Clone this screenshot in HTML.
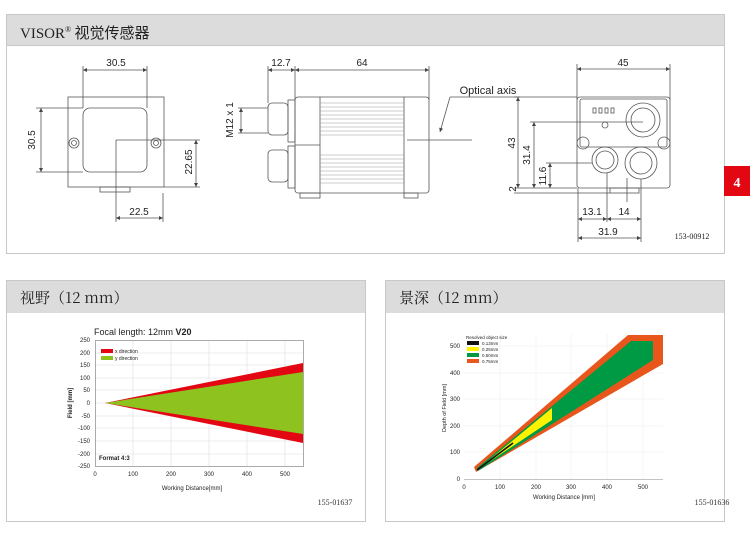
<!DOCTYPE html>
<html><head><meta charset="utf-8"><style>
body{margin:0;background:#fff;width:750px;height:543px;overflow:hidden;font-family:"Liberation Sans","Noto Sans CJK SC",sans-serif}
svg{display:block}
</style></head><body>
<svg width="750" height="543" viewBox="0 0 750 543" xmlns="http://www.w3.org/2000/svg" font-family="Liberation Sans, Noto Sans CJK SC, sans-serif">
<defs>
<marker id="a" viewBox="0 0 10 10" refX="10" refY="5" markerWidth="6" markerHeight="4" orient="auto-start-reverse" markerUnits="userSpaceOnUse"><path d="M0,0 L10,5 L0,10 z" fill="#444"/></marker>
</defs>
<!-- top panel -->
<rect x="6.5" y="14.5" width="718" height="239" fill="#fff" stroke="#c8c8c8"/>
<rect x="7" y="15" width="717" height="30" fill="#dcdcdc"/>
<line x1="7" y1="45.5" x2="724" y2="45.5" stroke="#c8c8c8"/>
<text x="20" y="38" font-size="15" font-family="Liberation Serif, Noto Serif CJK SC, serif" fill="#222">VISOR<tspan font-size="8" dy="-6">®</tspan><tspan dy="6" font-family="Noto Sans CJK SC, sans-serif"> 视觉传感器</tspan></text>
<rect x="724" y="166" width="26" height="30" fill="#e30613"/>
<text x="737" y="187" font-size="14" font-weight="bold" fill="#fff" text-anchor="middle" font-family="Liberation Serif, serif">4</text>

<g stroke="#555" fill="none" stroke-width="0.8">
<!-- front view -->
<rect x="68" y="97" width="96" height="90"/>
<rect x="83" y="108" width="64" height="64" rx="7"/>
<circle cx="74" cy="143" r="5"/><circle cx="74" cy="143" r="2.5"/>
<circle cx="156" cy="143" r="5"/><circle cx="156" cy="143" r="2.5"/>
<rect x="100" y="187" width="30" height="5"/>
<line x1="83" y1="66" x2="83" y2="108"/><line x1="147" y1="66" x2="147" y2="108"/>
<line x1="36" y1="108" x2="83" y2="108"/><line x1="36" y1="172" x2="83" y2="172"/>
<line x1="116" y1="140" x2="200" y2="140"/>
<line x1="164" y1="187" x2="200" y2="187"/>
<line x1="116" y1="140" x2="116" y2="222"/><line x1="163" y1="193" x2="163" y2="222"/>
<!-- side view -->
<rect x="295" y="97" width="134" height="96" rx="3"/>
<line x1="320" y1="97" x2="320" y2="193"/><line x1="404" y1="97" x2="404" y2="193"/>
<line x1="295" y1="145" x2="320" y2="145"/>
<g stroke="#999" stroke-width="0.6">
<line x1="320" y1="103" x2="404" y2="103"/><line x1="320" y1="107" x2="404" y2="107"/><line x1="320" y1="111" x2="404" y2="111"/><line x1="320" y1="115" x2="404" y2="115"/><line x1="320" y1="119" x2="404" y2="119"/><line x1="320" y1="123" x2="404" y2="123"/><line x1="320" y1="127" x2="404" y2="127"/><line x1="320" y1="131" x2="404" y2="131"/><line x1="320" y1="135" x2="404" y2="135"/>
<line x1="320" y1="155" x2="404" y2="155"/><line x1="320" y1="159" x2="404" y2="159"/><line x1="320" y1="163" x2="404" y2="163"/><line x1="320" y1="167" x2="404" y2="167"/><line x1="320" y1="171" x2="404" y2="171"/><line x1="320" y1="175" x2="404" y2="175"/><line x1="320" y1="179" x2="404" y2="179"/><line x1="320" y1="183" x2="404" y2="183"/>
</g>
<rect x="268" y="103" width="20" height="32" rx="4"/>
<rect x="288" y="100" width="7" height="42"/>
<rect x="268" y="150" width="20" height="32" rx="4"/>
<rect x="288" y="146" width="7" height="42"/>
<rect x="300" y="193" width="20" height="5"/><rect x="404" y="193" width="14" height="5"/>
<line x1="268" y1="66" x2="268" y2="103"/><line x1="295" y1="66" x2="295" y2="100"/><line x1="429" y1="66" x2="429" y2="100"/>
<line x1="238" y1="108" x2="268" y2="108"/><line x1="238" y1="133" x2="268" y2="133"/>
<line x1="407" y1="140" x2="472" y2="140"/>
<line x1="450" y1="97" x2="440" y2="132" marker-end="url(#a)"/>
<line x1="450" y1="97" x2="520" y2="97"/>
<!-- right view -->
<rect x="577" y="97" width="93" height="91" rx="3"/>
<rect x="580" y="99" width="87" height="48" rx="2"/>
<circle cx="643" cy="120" r="17"/><circle cx="643" cy="120" r="12"/>
<circle cx="605" cy="160" r="13"/><circle cx="605" cy="160" r="9"/>
<circle cx="641" cy="163" r="16"/><circle cx="641" cy="163" r="11"/>
<circle cx="583" cy="143" r="6"/><circle cx="664" cy="143" r="6"/>
<rect x="593" y="108" width="3" height="5"/><rect x="599" y="108" width="3" height="5"/><rect x="605" y="108" width="3" height="5"/><rect x="611" y="108" width="3" height="5"/>
<circle cx="605" cy="125" r="3"/>
<rect x="610" y="188" width="29" height="5"/>
<line x1="577" y1="64" x2="577" y2="100"/><line x1="670" y1="64" x2="670" y2="100"/>
<line x1="514" y1="97" x2="577" y2="97"/>
<line x1="530" y1="122" x2="643" y2="122"/>
<line x1="546" y1="163" x2="592" y2="163"/>
<line x1="514" y1="188" x2="577" y2="188"/><line x1="514" y1="193" x2="610" y2="193"/>
<line x1="578" y1="188" x2="578" y2="242"/><line x1="607" y1="173" x2="607" y2="222"/><line x1="627" y1="178" x2="627" y2="202"/><line x1="641" y1="179" x2="641" y2="242"/>
</g>
<!-- dimension lines with arrows -->
<g stroke="#555" fill="none" stroke-width="0.8" marker-start="url(#a)" marker-end="url(#a)">
<line x1="83" y1="70" x2="147" y2="70"/>
<line x1="41" y1="108" x2="41" y2="172"/>
<line x1="196" y1="140" x2="196" y2="187"/>
<line x1="116" y1="218" x2="163" y2="218"/>
<line x1="268" y1="70" x2="295" y2="70"/>
<line x1="295" y1="70" x2="429" y2="70"/>
<line x1="241" y1="108" x2="241" y2="133"/>
<line x1="577" y1="69" x2="670" y2="69"/>
<line x1="518" y1="97" x2="518" y2="188"/>
<line x1="534" y1="122" x2="534" y2="188"/>
<line x1="550" y1="163" x2="550" y2="188"/>
<line x1="578" y1="219" x2="607" y2="219"/>
<line x1="607" y1="219" x2="641" y2="219"/>
<line x1="578" y1="238" x2="641" y2="238"/>
</g>
<g font-size="10" fill="#222" text-anchor="middle" font-family="Liberation Sans Narrow, Liberation Sans, sans-serif">
<text x="116" y="66">30.5</text><text x="35" y="140" transform="rotate(-90 35 140)">30.5</text>
<text x="192" y="162" transform="rotate(-90 192 162)">22.65</text><text x="139" y="215">22.5</text>
<text x="281" y="66">12.7</text><text x="362" y="66">64</text>
<text x="233" y="120" transform="rotate(-90 233 120)">M12 x 1</text>
<text x="488" y="94" font-size="11">Optical axis</text>
<text x="623" y="66">45</text>
<text x="515" y="143" transform="rotate(-90 515 143)">43</text>
<text x="530" y="155" transform="rotate(-90 530 155)">31.4</text>
<text x="546" y="176" transform="rotate(-90 546 176)">11.6</text>
<text x="516" y="189" transform="rotate(-90 516 189)">2</text>
<text x="592" y="215">13.1</text><text x="624" y="215">14</text><text x="608" y="235">31.9</text>
<text x="692" y="239" font-size="8" font-family="Liberation Serif, serif">153-00912</text>
</g>

<!-- bottom left panel -->
<rect x="6.5" y="280.5" width="359" height="241" fill="#fff" stroke="#c8c8c8"/>
<rect x="7" y="281" width="358" height="32" fill="#dcdcdc"/>
<text x="20" y="303" font-size="15" fill="#222" font-family="Noto Serif CJK SC, Liberation Serif, serif">视野（12 mm）</text>
<text x="94" y="335" font-size="9" fill="#222">Focal length: 12mm <tspan font-weight="bold">V20</tspan></text>
<g stroke="#ddd" stroke-width="0.6">
<line x1="133" y1="340" x2="133" y2="466"/><line x1="171" y1="340" x2="171" y2="466"/><line x1="209" y1="340" x2="209" y2="466"/><line x1="247" y1="340" x2="247" y2="466"/><line x1="285" y1="340" x2="285" y2="466"/>
<line x1="95" y1="353" x2="303" y2="353"/><line x1="95" y1="365" x2="303" y2="365"/><line x1="95" y1="378" x2="303" y2="378"/><line x1="95" y1="390" x2="303" y2="390"/><line x1="95" y1="403" x2="303" y2="403"/><line x1="95" y1="416" x2="303" y2="416"/><line x1="95" y1="428" x2="303" y2="428"/><line x1="95" y1="441" x2="303" y2="441"/><line x1="95" y1="454" x2="303" y2="454"/>
</g>
<rect x="95.5" y="340.5" width="208" height="126" fill="none" stroke="#888" stroke-width="0.7"/>
<polygon points="105,403 303,363 303,443" fill="#e30613"/>
<polygon points="105,403 303,372 303,434" fill="#8dc21f"/>
<rect x="101" y="349" width="12" height="4" fill="#e30613"/><rect x="101" y="356" width="12" height="4" fill="#8dc21f"/>
<g font-size="5" fill="#222"><text x="115" y="353">x direction</text><text x="115" y="360">y direction</text></g>
<text x="99" y="460" font-size="6" font-weight="bold" fill="#222">Format 4:3</text>
<g font-size="6" fill="#222" text-anchor="end">
<text x="90" y="342">250</text><text x="90" y="355">200</text><text x="90" y="367">150</text><text x="90" y="380">100</text><text x="90" y="392">50</text><text x="90" y="405">0</text><text x="90" y="418">-50</text><text x="90" y="430">-100</text><text x="90" y="443">-150</text><text x="90" y="456">-200</text><text x="90" y="468">-250</text>
</g>
<g font-size="6" fill="#222" text-anchor="middle">
<text x="95" y="476">0</text><text x="133" y="476">100</text><text x="171" y="476">200</text><text x="209" y="476">300</text><text x="247" y="476">400</text><text x="285" y="476">500</text>
<text x="192" y="490">Working Distance[mm]</text>
</g>
<text x="72" y="403" font-size="6" font-weight="bold" fill="#222" text-anchor="middle" transform="rotate(-90 72 403)">Field [mm]</text>
<text x="335" y="505" font-size="8" fill="#333" text-anchor="middle" font-family="Liberation Serif, serif">155-01637</text>

<!-- bottom right panel -->
<rect x="385.5" y="280.5" width="339" height="241" fill="#fff" stroke="#c8c8c8"/>
<rect x="386" y="281" width="338" height="32" fill="#dcdcdc"/>
<text x="399" y="303" font-size="15" fill="#222" font-family="Noto Serif CJK SC, Liberation Serif, serif">景深（12 mm）</text>
<g stroke="#eee" stroke-width="0.6">
<line x1="500" y1="334" x2="500" y2="479"/><line x1="536" y1="334" x2="536" y2="479"/><line x1="571" y1="334" x2="571" y2="479"/><line x1="607" y1="334" x2="607" y2="479"/><line x1="643" y1="334" x2="643" y2="479"/>
<line x1="464" y1="452" x2="663" y2="452"/><line x1="464" y1="426" x2="663" y2="426"/><line x1="464" y1="399" x2="663" y2="399"/><line x1="464" y1="373" x2="663" y2="373"/><line x1="464" y1="346" x2="663" y2="346"/>
</g>
<line x1="464" y1="479.5" x2="663" y2="479.5" stroke="#888" stroke-width="0.6"/>
<polygon points="474,467 628,335 663,335 663,364 476,472" fill="#e8561c"/>
<polygon points="477,468 631,341 653,341 653,360 478,471" fill="#009a44"/>
<polygon points="477,470 552,408 552,420" fill="#fff200"/>
<line x1="477" y1="470" x2="513" y2="443" stroke="#111" stroke-width="1.6"/>
<rect x="467" y="341" width="12" height="4" fill="#111"/><rect x="467" y="347" width="12" height="4" fill="#fff200"/>
<rect x="467" y="353" width="12" height="4" fill="#009a44"/><rect x="467" y="359" width="12" height="4" fill="#e8561c"/>
<g font-size="4.5" fill="#222"><text x="466" y="339">Resolved object size</text><text x="482" y="345">0.13mm</text><text x="482" y="351">0.25mm</text><text x="482" y="357">0.50mm</text><text x="482" y="363">0.75mm</text></g>
<g font-size="6" fill="#222" text-anchor="end">
<text x="460" y="481">0</text><text x="460" y="454">100</text><text x="460" y="428">200</text><text x="460" y="401">300</text><text x="460" y="375">400</text><text x="460" y="348">500</text>
</g>
<g font-size="6" fill="#222" text-anchor="middle">
<text x="464" y="489">0</text><text x="500" y="489">100</text><text x="536" y="489">200</text><text x="571" y="489">300</text><text x="607" y="489">400</text><text x="643" y="489">500</text>
<text x="564" y="499">Working Distance [mm]</text>
</g>
<text x="446" y="408" font-size="5.5" fill="#222" text-anchor="middle" transform="rotate(-90 446 408)">Depth of Field [mm]</text>
<text x="712" y="505" font-size="8" fill="#333" text-anchor="middle" font-family="Liberation Serif, serif">155-01636</text>
</svg>
</body></html>
